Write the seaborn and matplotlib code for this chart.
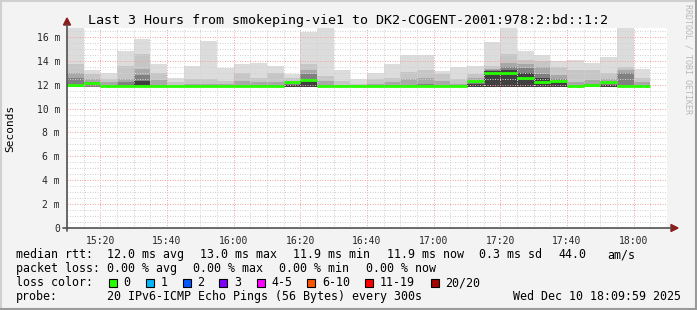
import matplotlib
matplotlib.use("Agg")
import matplotlib.pyplot as plt
from matplotlib.patches import Rectangle, Polygon
from matplotlib.lines import Line2D
import numpy as np
import pandas as pd
import seaborn as sns

# ---------------- data ----------------
slot_start = ["15:10", "15:15", "15:20", "15:25", "15:30", "15:35", "15:40", "15:45",
              "15:50", "15:55", "16:00", "16:05", "16:10", "16:15", "16:20", "16:25",
              "16:30", "16:35", "16:40", "16:45", "16:50", "16:55", "17:00", "17:05",
              "17:10", "17:15", "17:20", "17:25", "17:30", "17:35", "17:40", "17:45",
              "17:50", "17:55", "18:00"]
median_ms = [12.0, 12.15, 11.9, 11.9, 11.9, 11.9, 11.9, 11.9, 11.9, 11.9, 11.9, 11.9,
             11.9, 12.2, 12.4, 11.9, 11.9, 11.9, 11.9, 11.9, 11.9, 11.9, 11.9, 11.9,
             12.3, 13.0, 13.0, 12.6, 12.2, 12.3, 11.9, 12.0, 12.2, 11.9, 11.9]
loss_count = [0, 0, 0, 0, 0, 0, 0, 0, 0, 0, 0, 0, 0, 0, 0, 0, 0, 0, 0, 0, 0, 0, 0, 0,
              0, 0, 0, 0, 0, 0, 0, 0, 0, 0, 0]
ping_min = [11.8, 11.8, 11.8, 11.8, 11.8, 11.8, 11.8, 11.8, 11.8, 11.8, 11.8, 11.8,
            11.8, 11.85, 11.85, 11.8, 11.8, 11.8, 11.8, 11.8, 11.8, 11.8, 11.8, 11.8,
            11.85, 11.85, 11.85, 11.85, 11.85, 11.85, 11.8, 11.8, 11.85, 11.8, 11.8]
smoke_1 = [17.0, 13.2, 13.0, 14.85, 15.8, 13.7, 12.55, 13.55, 15.7, 13.4, 13.7, 13.8,
           13.6, 12.9, 16.45, 17.0, 13.2, 12.45, 13.0, 13.7, 14.5, 14.5, 13.15, 13.45,
           13.55, 15.6, 17.0, 14.8, 14.45, 13.95, 14.1, 13.8, 14.35, 17.0, 13.3]
smoke_2 = [13.7, 12.9, 12.5, 13.6, 14.55, 13.0, 12.2, 12.5, 12.5, 12.3, 12.95, 12.6,
           13.0, 12.6, 13.7, 12.75, 12.3, 12.1, 12.5, 12.6, 13.1, 13.2, 12.9, 12.5,
           12.9, 13.6, 14.6, 14.05, 13.95, 13.45, 13.2, 13.2, 12.95, 13.45, 12.6]
smoke_3 = [13.0, 12.5, 12.2, 12.5, 13.3, 12.4, 12.0, 12.1, 12.1, 12.05, 12.3, 12.2,
           12.2, 12.35, 13.2, 12.3, 12.0, 11.95, 12.1, 12.2, 12.5, 12.6, 12.3, 12.1,
           12.6, 13.35, 13.8, 13.7, 13.45, 12.85, 12.2, 12.4, 12.5, 13.2, 12.2]
smoke_4 = [12.6, 12.2, 11.95, 12.2, 12.8, 12.0, 11.9, 11.95, 11.95, 11.9, 12.0, 11.95,
           11.95, 12.1, 12.9, 12.0, 11.9, 11.85, 11.95, 11.95, 12.0, 12.1, 12.0, 11.95,
           12.35, 13.25, 13.45, 13.4, 12.9, 12.5, 11.95, 12.05, 12.2, 13.0, 11.95]
smoke_5 = [11.8, 11.8, 11.8, 11.8, 12.3, 11.8, 11.8, 11.8, 11.8, 11.8, 11.8, 11.8,
           11.8, 11.95, 12.3, 11.8, 11.8, 11.8, 11.8, 11.8, 11.8, 11.8, 11.8, 11.8,
           12.1, 13.15, 13.2, 13.0, 12.6, 12.2, 11.8, 11.8, 12.0, 11.8, 11.8]
time_ticks = ["15:20", "15:40", "16:00", "16:20", "16:40", "17:00", "17:20", "17:40", "18:00"]
y_ticks = [0, 2, 4, 6, 8, 10, 12, 14, 16]
loss_labels = ["0", "1", "2", "3", "4-5", "6-10", "11-19", "20/20"]
loss_colors = ["#26ff00", "#00b8ff", "#0059ff", "#7e00ff", "#ff00ff", "#ff5500", "#ff0000", "#a10000"]

# ---------------- helpers ----------------
W, H = 697, 310
T0 = 15 * 60 + 10  # start of window (15:10)


def to_min(s):
    h, m = s.split(":")
    return int(h) * 60 + int(m) - T0


def fx(px):
    return px / W


def fy(py):
    return 1 - py / H


df = pd.DataFrame({
    "t": [to_min(s) for s in slot_start],
    "median": median_ms, "loss": loss_count, "base": ping_min,
    "s1": smoke_1, "s2": smoke_2, "s3": smoke_3, "s4": smoke_4, "s5": smoke_5,
})

sns.set_theme(style="white")
MONO = ["DejaVu Sans Mono"]
plt.rcParams["font.family"] = MONO
plt.rcParams["text.color"] = "#000000"

fig = plt.figure(figsize=(W / 100, H / 100), dpi=100, facecolor="#f3f3f3")
ax = fig.add_axes([fx(67), fy(228), fx(600), 200 / H])
ax.set_facecolor("#ffffff")

# smoke layers (lightest = widest spread, darkest = core)
shade = {"s1": "#dcdcdc", "s2": "#c6c6c6", "s3": "#a8a8a8", "s4": "#808080", "s5": "#404040"}
for col in ["s1", "s2", "s3", "s4", "s5"]:
    ax.bar(df["t"], df[col] - df["base"], bottom=df["base"], width=5, align="edge",
           color=shade[col], linewidth=0, zorder=1)


def loss_idx(n):
    if n <= 0: return 0
    if n == 1: return 1
    if n == 2: return 2
    if n == 3: return 3
    if n <= 5: return 4
    if n <= 10: return 5
    if n <= 19: return 6
    return 7


ax.hlines(df["median"], df["t"], df["t"] + 5,
          colors=[loss_colors[loss_idx(n)] for n in df["loss"]], lw=2.0, zorder=4)

ax.set_xlim(0, 180)
ax.set_ylim(0, 200 / 11.94)
ax.set_xticks([to_min(s) for s in time_ticks])
ax.set_xticklabels(time_ticks)
ax.set_xticks(np.arange(0, 181, 5), minor=True)
ax.set_yticks(y_ticks)
ax.set_yticklabels(["0" if v == 0 else f"{v} m" for v in y_ticks])
ax.set_yticks(np.arange(0, 16.8, 0.5), minor=True)
ax.set_axisbelow(False)
ax.grid(which="minor", color="#d2d2d2", linestyle=(0, (1, 1.5)), linewidth=0.72)
ax.grid(which="major", color="#f2a4a4", linestyle=(0, (1, 1.5)), linewidth=0.72)
ax.tick_params(axis="both", which="major", direction="out", length=2, width=0.72,
               color="#404040", labelsize=7, pad=3)
ax.tick_params(axis="both", which="minor", direction="out", length=1.5, width=0.72,
               color="#404040")
ax.tick_params(axis="x", which="major", pad=3.5)
for sp in ax.spines.values():
    sp.set_visible(False)

# axes lines with arrows
fig.add_artist(Line2D([fx(67), fx(67)], [fy(231), fy(24)], color="#505050", lw=1.2,
                      transform=fig.transFigure))
fig.add_artist(Line2D([fx(63), fx(672)], [fy(228), fy(228)], color="#505050", lw=1.2,
                      transform=fig.transFigure))
fig.add_artist(Polygon([[fx(67), fy(18)], [fx(63.5), fy(25)], [fx(70.5), fy(25)]],
                       closed=True, color="#8b1a1a", transform=fig.transFigure))
fig.add_artist(Polygon([[fx(678), fy(228)], [fx(671), fy(224.5)], [fx(671), fy(231.5)]],
                       closed=True, color="#8b1a1a", transform=fig.transFigure))

# title & labels
fig.text(fx(348), fy(24), "Last 3 Hours from smokeping-vie1 to DK2-COGENT-2001:978:2:bd::1:2",
         ha="center", va="baseline", fontsize=9.6, family=MONO)
fig.text(fx(10), fy(128), "Seconds", rotation=90, ha="center", va="center",
         fontsize=8, family=MONO)
fig.text(fx(688), fy(4), "RRDTOOL / TOBI OETIKER", rotation=270, ha="center", va="top",
         fontsize=6, color="#b8b8b8", family=MONO)

# legend rows
FS = 8.4
rows = [
    (258, [(16, "median rtt:"), (107, "12.0 ms avg"), (200, "13.0 ms max"),
           (293, "11.9 ms min"), (387, "11.9 ms now"), (479, "0.3 ms sd"),
           (558, "44.0"), (607, "am/s")]),
    (272, [(16, "packet loss:"), (107, "0.00 % avg"), (193, "0.00 % max"),
           (279, "0.00 % min"), (366, "0.00 % now")]),
    (286, [(16, "loss color:")]),
    (300, [(16, "probe:"), (107, "20 IPv6-ICMP Echo Pings (56 Bytes) every 300s"),
           (513, "Wed Dec 10 18:09:59 2025")]),
]
for yb, items in rows:
    for x0, s in items:
        fig.text(fx(x0), fy(yb), s, ha="left", va="baseline", fontsize=FS, family=MONO)

box_x = [109, 146, 183, 219, 257, 307, 365, 431]
lab_x = [123, 161, 197, 234, 271, 322, 380, 445]
for bx, lx, lab, c in zip(box_x, lab_x, loss_labels, loss_colors):
    fig.add_artist(Rectangle((fx(bx), fy(286.5)), fx(8), 8 / H, facecolor=c,
                             edgecolor="#000000", linewidth=0.8, transform=fig.transFigure))
    fig.text(fx(lx), fy(286), lab, ha="left", va="baseline", fontsize=FS, family=MONO)

# image frame
fig.add_artist(Line2D([0, 1], [fy(0.5), fy(0.5)], color="#d0d0d0", lw=1.5, transform=fig.transFigure))
fig.add_artist(Line2D([fx(0.5), fx(0.5)], [0, 1], color="#d0d0d0", lw=1.5, transform=fig.transFigure))
fig.add_artist(Line2D([0, 1], [fy(309), fy(309)], color="#9a9a9a", lw=1.5, transform=fig.transFigure))
fig.add_artist(Line2D([fx(696), fx(696)], [0, 1], color="#9a9a9a", lw=1.5, transform=fig.transFigure))

fig.savefig("out.png", dpi=100, facecolor=fig.get_facecolor())
